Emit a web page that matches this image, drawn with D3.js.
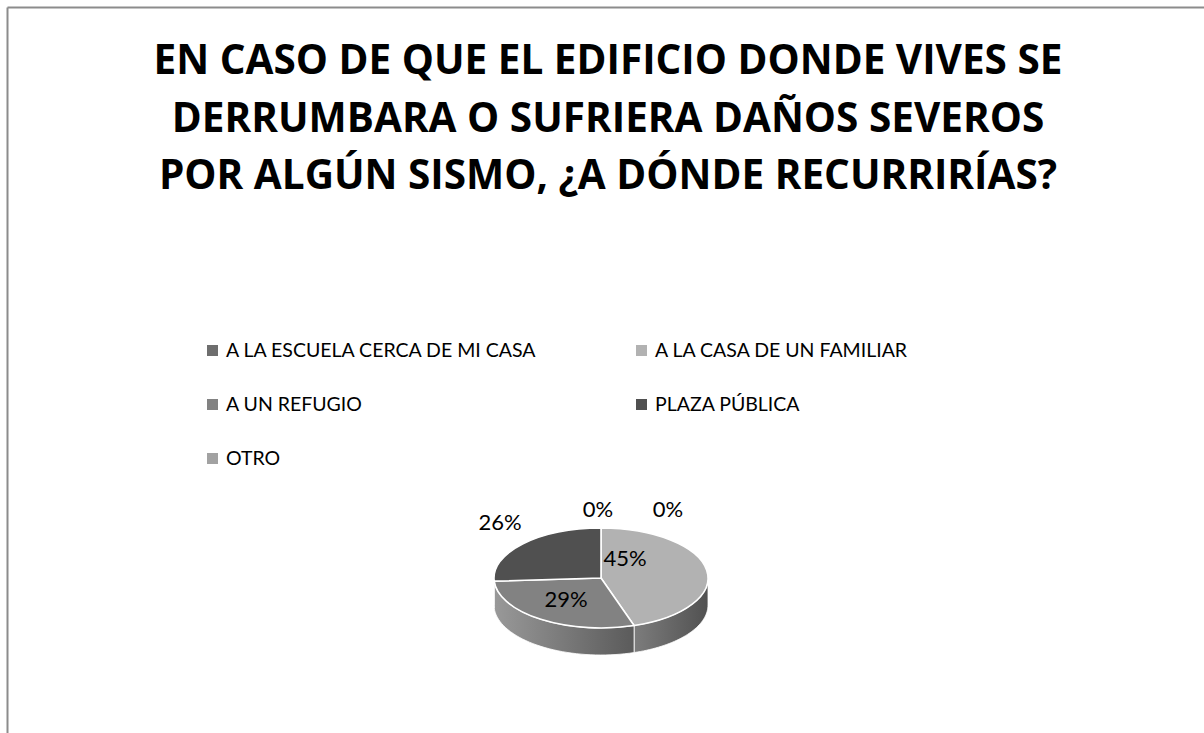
<!DOCTYPE html>
<html>
<head>
<meta charset="utf-8">
<script src="https://cdn.jsdelivr.net/npm/d3@7"></script>
<style>
  html, body { margin: 0; padding: 0; background: #fff; }
  svg { display: block; }
</style>
</head>
<body>
<svg id="chart" width="1204" height="733"></svg>
<script>
// data
const titleLines = [
  "EN CASO DE QUE EL EDIFICIO DONDE VIVES SE",
  "DERRUMBARA O SUFRIERA DAÑOS SEVEROS",
  "POR ALGÚN SISMO, ¿A DÓNDE RECURRIRÍAS?"
];
const categories = ["A LA ESCUELA CERCA DE MI CASA", "A LA CASA DE UN FAMILIAR", "A UN REFUGIO", "PLAZA PÚBLICA", "OTRO"];
const values = [0, 45, 29, 26, 0];
const colors = ["#6e6e6e", "#b2b2b2", "#828282", "#505050", "#a2a2a2"];

const svg = d3.select("#chart");

// frame (only top and left edges show)
svg.append("line").attr("x1", 7.5).attr("y1", 7.5).attr("x2", 1204).attr("y2", 7.5)
  .attr("stroke", "#8c8c8c").attr("stroke-width", 2);
svg.append("line").attr("x1", 7.5).attr("y1", 7.5).attr("x2", 7.5).attr("y2", 733)
  .attr("stroke", "#8c8c8c").attr("stroke-width", 2);

// title
svg.append("g").selectAll("text")
  .data(titleLines)
  .enter().append("text")
  .attr("x", 608)
  .attr("y", (d, i) => 74 + i * 57.5)
  .attr("text-anchor", "middle")
  .attr("font-family", "'Open Sans', sans-serif")
  .attr("font-weight", "bold")
  .attr("font-size", 40.5)
  .attr("fill", "#000")
  .text(d => d);

// legend, two columns
let legend = svg.append("g").selectAll("g")
  .data(categories)
  .enter().append("g")
  .attr("transform", (d, i) => `translate(${i % 2 ? 636 : 207},${357 + Math.floor(i / 2) * 54})`);
legend.append("rect")
  .attr("x", 0).attr("y", -12).attr("width", 11).attr("height", 11)
  .attr("fill", (d, i) => colors[i]);
legend.append("text")
  .attr("x", 19).attr("y", 0)
  .attr("font-family", "Lato, sans-serif")
  .attr("font-size", 19.5)
  .attr("fill", "#000")
  .text(d => d);

// 3d pie
const cx = 601, cy = 578, rx = 107, ry = 50, depth = 27;
const pie = d3.pie().sort(null).value(d => d);
const arcs = pie(values);

function pt(a, dy) {
  return [cx + rx * Math.sin(a), cy - ry * Math.cos(a) + (dy || 0)];
}

const defs = svg.append("defs");
const pieG = svg.append("g");

// side walls, only the front half (angles between PI/2 and 3PI/2)
arcs.forEach((a, i) => {
  let s = Math.max(a.startAngle, Math.PI / 2);
  let e = Math.min(a.endAngle, Math.PI * 3 / 2);
  if (e <= s) return;
  let g = defs.append("linearGradient").attr("id", "side" + i)
    .attr("gradientUnits", "userSpaceOnUse")
    .attr("x1", cx - rx).attr("x2", cx + rx).attr("y1", 0).attr("y2", 0);
  let c = d3.color(colors[i]);
  g.append("stop").attr("offset", 0).attr("stop-color", c.brighter(0.45));
  g.append("stop").attr("offset", 0.5).attr("stop-color", c.darker(0.6));
  g.append("stop").attr("offset", 1).attr("stop-color", c.darker(2.2));
  let n = 40, top = [], bot = [];
  for (let k = 0; k <= n; k++) {
    let t = s + (e - s) * k / n;
    top.push(pt(t));
    bot.push(pt(t, depth));
  }
  let p = d3.line()(top.concat(bot.reverse())) + "Z";
  pieG.append("path").attr("d", p)
    .attr("fill", `url(#side${i})`)
    .attr("stroke", "#fff").attr("stroke-width", 0.8).attr("stroke-linejoin", "round");
});

// top faces
const arc = d3.arc().innerRadius(0).outerRadius(rx);
pieG.append("g")
  .attr("transform", `translate(${cx},${cy}) scale(1,${ry / rx})`)
  .selectAll("path")
  .data(arcs.filter(a => a.value > 0))
  .enter().append("path")
  .attr("d", arc)
  .attr("fill", d => colors[d.index])
  .attr("stroke", "#fff")
  .attr("stroke-width", 1.6)
  .attr("vector-effect", "non-scaling-stroke");

// data labels, placed as in the picture
const labelX = [598, 625, 566, 500, 668];
const labelY = [517, 566, 607, 530, 517];
svg.append("g").selectAll("text")
  .data(arcs)
  .enter().append("text")
  .attr("x", d => labelX[d.index])
  .attr("y", d => labelY[d.index])
  .attr("text-anchor", "middle")
  .attr("font-family", "Lato, sans-serif")
  .attr("font-size", 22)
  .attr("fill", "#000")
  .text(d => Math.round(d.value) + "%");
</script>
</body>
</html>
